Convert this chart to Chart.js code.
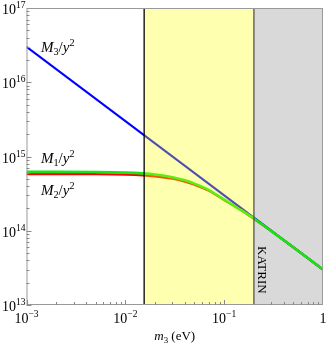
<!DOCTYPE html>
<html lang="en">
<head>
  <meta charset="UTF-8" />
  <title>Heavy neutrino masses</title>
  <script src="https://cdn.jsdelivr.net/npm/chart.js"></script>
  <style>
    body { margin: 0; background: #fff; }
    #wrap { width: 327px; height: 345px; position: relative; }
  </style>
</head>
<body>
  <div id="wrap"><canvas id="massChart"></canvas></div>

  <script>
    // m3 (eV) grid for the M1, M2 curves
    const m3Values = [0.001, 0.002, 0.005, 0.01, 0.015, 0.02, 0.03, 0.04, 0.05, 0.07, 0.1, 0.15, 0.2, 0.3, 0.5, 0.7, 1];
    const m1Curve = [6.2e14, 6.2e14, 6.17e14, 6.07e14, 5.92e14, 5.73e14, 5.27e14, 4.78e14, 4.31e14, 3.53e14, 2.62e14, 1.88e14, 1.46e14, 9.9e13, 6.0e13, 4.3e13, 3.0e13];
    const m2Curve = [5.8e14, 5.8e14, 5.78e14, 5.70e14, 5.57e14, 5.41e14, 5.02e14, 4.59e14, 4.17e14, 3.45e14, 2.6e14, 1.87e14, 1.45e14, 9.9e13, 6.0e13, 4.3e13, 3.0e13];
    const m3LineX = [0.001, 1];
    const m3Line = [3e16, 3e13];

    // shaded regions (eV)
    const yellowBand = [0.0155, 0.2];
    const katrinBand = [0.2, 1];

    const xMajor = [1e-3, 1e-2, 1e-1, 1];
    const xLabels = [['10', '\u22123'], ['10', '\u22122'], ['10', '\u22121'], ['1', '']];
    const yMajor = [1e13, 1e14, 1e15, 1e16, 1e17];
    const yLabels = [['10', '13'], ['10', '14'], ['10', '15'], ['10', '16'], ['10', '17']];

    const SERIF = '"Liberation Serif", "DejaVu Serif", serif';

    function pts(xs, ys) {
      return xs.map((x, i) => ({ x: x, y: ys[i] }));
    }

    // draws a list of [text, style] pieces; style: i = italic, sub, sup
    function richText(ctx, parts, x, y, size, align) {
      const fontFor = (p) => {
        const small = p[1] && (p[1].includes('sub') || p[1].includes('sup'));
        const it = p[1] && p[1].includes('i');
        return (it ? 'italic ' : '') + (small ? size * 0.68 : size) + 'px ' + SERIF;
      };
      let total = 0;
      parts.forEach(p => { ctx.font = fontFor(p); total += ctx.measureText(p[0]).width; });
      let cx = x;
      if (align === 'center') cx = x - total / 2;
      if (align === 'right') cx = x - total;
      ctx.textAlign = 'left';
      ctx.textBaseline = 'alphabetic';
      parts.forEach(p => {
        ctx.font = fontFor(p);
        let dy = 0;
        if (p[1] && p[1].includes('sup')) dy = -size * 0.42;
        if (p[1] && p[1].includes('sub')) dy = size * 0.22;
        ctx.fillText(p[0], cx, y + dy);
        cx += ctx.measureText(p[0]).width;
      });
    }

    const decor = {
      id: 'decor',
      beforeDatasetsDraw(chart) {
        const { ctx, chartArea: a, scales: { x } } = chart;
        ctx.save();
        ctx.fillStyle = '#d9d9d9';
        const x0 = x.getPixelForValue(katrinBand[0]);
        const x1 = x.getPixelForValue(katrinBand[1]);
        ctx.fillRect(x0, a.top, x1 - x0, a.bottom - a.top);
        ctx.restore();
      },
      afterDatasetsDraw(chart) {
        const { ctx, chartArea: a, scales: { x, y } } = chart;
        ctx.save();

        // yellow band sits over the curves
        const y0 = x.getPixelForValue(yellowBand[0]);
        const y1 = x.getPixelForValue(yellowBand[1]);
        ctx.fillStyle = 'rgba(255, 255, 0, 0.31)';
        ctx.fillRect(y0, a.top, y1 - y0, a.bottom - a.top);

        ctx.lineWidth = 1.3;
        ctx.strokeStyle = '#000';
        ctx.beginPath();
        ctx.moveTo(y0, a.top); ctx.lineTo(y0, a.bottom);
        ctx.stroke();
        ctx.strokeStyle = '#555';
        const k0 = x.getPixelForValue(katrinBand[0]);
        ctx.beginPath();
        ctx.moveTo(k0, a.top); ctx.lineTo(k0, a.bottom);
        ctx.stroke();

        // frame
        ctx.strokeStyle = '#999';
        ctx.lineWidth = 1;
        ctx.strokeRect(a.left + 0.5, a.top + 0.5, a.right - a.left - 1, a.bottom - a.top - 1);

        // inner ticks
        ctx.strokeStyle = '#888';
        ctx.beginPath();
        for (let e = -3; e < 0; e++) {
          for (let k = 1; k <= 9; k++) {
            const px = Math.round(x.getPixelForValue(k * Math.pow(10, e))) + 0.5;
            const len = k === 1 ? 5 : 3;
            ctx.moveTo(px, a.bottom); ctx.lineTo(px, a.bottom - len);
          }
        }
        for (let e = 13; e < 17; e++) {
          for (let k = 1; k <= 9; k++) {
            const py = Math.round(y.getPixelForValue(k * Math.pow(10, e))) + 0.5;
            const len = k === 1 ? 5 : 3;
            ctx.moveTo(a.left, py); ctx.lineTo(a.left + len, py);
          }
        }
        ctx.stroke();

        // tick labels
        ctx.fillStyle = '#000';
        xMajor.forEach((v, i) => {
          const px = x.getPixelForValue(v);
          const lab = xLabels[i];
          const parts = lab[1] ? [[lab[0], ''], [lab[1], 'sup']] : [[lab[0], '']];
          richText(ctx, parts, Math.min(px, 323), a.bottom + 18, 14, 'center');
        });
        yMajor.forEach((v, i) => {
          const py = y.getPixelForValue(v);
          richText(ctx, [[yLabels[i][0], ''], [yLabels[i][1], 'sup']], a.left - 1, py + 6, 14, 'right');
        });

        // axis title
        richText(ctx, [['m', 'i'], ['3', 'sub'], [' (eV)', '']], (a.left + a.right) / 2, a.bottom + 35, 13, 'center');

        // curve labels
        richText(ctx, [['M', 'i'], ['3', 'sub'], ['/', ''], ['y', 'i'], ['2', 'sup']], 41, 52, 15, 'left');
        richText(ctx, [['M', 'i'], ['1', 'sub'], ['/', ''], ['y', 'i'], ['2', 'sup']], 41, 163, 15, 'left');
        richText(ctx, [['M', 'i'], ['2', 'sub'], ['/', ''], ['y', 'i'], ['2', 'sup']], 41, 195, 15, 'left');

        // KATRIN, rotated
        ctx.translate(k0 + 4, 246);
        ctx.rotate(Math.PI / 2);
        ctx.font = '13px ' + SERIF;
        ctx.textAlign = 'left';
        ctx.textBaseline = 'alphabetic';
        ctx.fillText('KATRIN', 0, 0);

        ctx.restore();
      }
    };

    new Chart(document.getElementById('massChart').getContext('2d'), {
      type: 'line',
      data: {
        datasets: [
          {
            label: 'M1/y^2',
            data: pts(m3Values, m1Curve),
            borderColor: '#14e614',
            borderWidth: 2.6,
            pointRadius: 0,
            cubicInterpolationMode: 'monotone',
            fill: false
          },
          {
            label: 'M2/y^2',
            data: pts(m3Values, m2Curve),
            borderColor: '#ff0000',
            borderWidth: 2.2,
            pointRadius: 0,
            cubicInterpolationMode: 'monotone',
            fill: false
          },
          {
            label: 'M3/y^2',
            data: pts(m3LineX, m3Line),
            borderColor: '#0000ff',
            borderWidth: 2.2,
            pointRadius: 0,
            fill: false
          }
        ]
      },
      options: {
        responsive: true,
        maintainAspectRatio: false,
        animation: false,
        layout: { padding: { left: 26.5, right: 4, top: 8, bottom: 40 } },
        plugins: { legend: { display: false }, tooltip: { enabled: false } },
        scales: {
          x: { type: 'logarithmic', min: 1e-3, max: 1, display: false },
          y: { type: 'logarithmic', min: 1e13, max: 1e17, display: false }
        }
      },
      plugins: [decor]
    });
  </script>
</body>
</html>
